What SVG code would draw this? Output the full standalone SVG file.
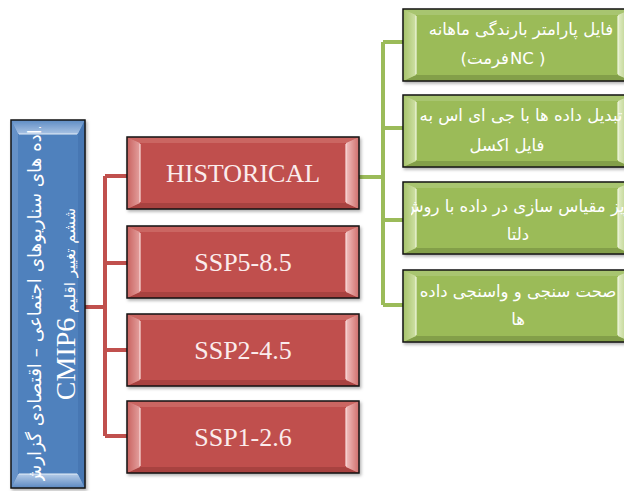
<svg xmlns="http://www.w3.org/2000/svg" width="624" height="491" viewBox="0 0 624 491">
<style>
.fa{font-family:"DejaVu Sans",sans-serif;fill:#ffffff;direction:rtl;text-anchor:middle}
.fl{font-family:"DejaVu Sans",sans-serif;fill:#ffffff;direction:ltr;font-size:16.5px}
.g{font-size:16.5px}
.en{font-family:"Liberation Serif","Times New Roman",serif;font-size:26px;fill:#fbecec;text-anchor:middle}
.red{fill:none;stroke:#c0504d;stroke-width:4}
.grn{fill:none;stroke:#9bbb59;stroke-width:4}
.edge{fill:none;stroke:#151515;stroke-width:1.5}
</style>
<defs>
<filter id="sh" x="-10%" y="-10%" width="130%" height="130%">
<feDropShadow dx="1.5" dy="2" stdDeviation="1.5" flood-color="#000" flood-opacity="0.3"/>
</filter>
<linearGradient id="rL" x1="0" x2="1"><stop offset="0" stop-color="#c9625f"/><stop offset="1" stop-color="#e3a09e"/></linearGradient>
<linearGradient id="rR" x1="1" x2="0"><stop offset="0" stop-color="#cf6e6b"/><stop offset="1" stop-color="#f1c1c0"/></linearGradient>
<linearGradient id="gL" x1="0" x2="1"><stop offset="0" stop-color="#a5c268"/><stop offset="1" stop-color="#cfe0a6"/></linearGradient>
<linearGradient id="gR" x1="1" x2="0"><stop offset="0" stop-color="#aac671"/><stop offset="1" stop-color="#e2edc7"/></linearGradient>
<linearGradient id="bT" x1="0" y1="0" x2="0" y2="1"><stop offset="0" stop-color="#5e8cc4"/><stop offset="1" stop-color="#a9c3e4"/></linearGradient>
<linearGradient id="bB" x1="0" y1="1" x2="0" y2="0"><stop offset="0" stop-color="#5b88c1"/><stop offset="1" stop-color="#b5cce8"/></linearGradient>
<g id="redShape">
<rect width="232" height="72" fill="#c0504d"/>
<polygon points="0,0 232,0 219,6 13,6" fill="#cb6662"/>
<polygon points="0,72 232,72 219,66 13,66" fill="#a8423f"/>
<polygon points="0,0 13,6 13,66 0,72" fill="url(#rL)"/>
<polygon points="232,0 219,6 219,66 232,72" fill="url(#rR)"/>
<path d="M13,7 V65 M219,7 V65" stroke="#f8dad9" stroke-width="1.2"/>
<rect width="232" height="72" class="edge"/>
</g>
<g id="grnShape">
<rect width="228" height="72" fill="#9bbb59"/>
<polygon points="0,0 228,0 215,6 13,6" fill="#a8c56f"/>
<polygon points="0,72 228,72 215,66 13,66" fill="#839f49"/>
<polygon points="0,0 13,6 13,66 0,72" fill="url(#gL)"/>
<polygon points="228,0 215,6 215,66 228,72" fill="url(#gR)"/>
<path d="M13,7 V65 M215,7 V65" stroke="#eef5de" stroke-width="1.2"/>
<rect width="228" height="72" class="edge"/>
</g>
<g id="bluShape">
<rect width="74" height="368" fill="#4f81bd"/>
<polygon points="0,0 74,0 67,14 7,14" fill="url(#bT)"/>
<polygon points="0,368 74,368 67,354 7,354" fill="url(#bB)"/>
<polygon points="0,0 7,14 7,354 0,368" fill="#6591c7"/>
<polygon points="74,0 67,14 67,354 74,368" fill="#4677b3"/>
<path d="M8,14 H66 M8,354 H66" stroke="#e4edf8" stroke-width="1.2"/>
<rect width="74" height="368" class="edge"/>
</g>
<clipPath id="cB"><rect x="11" y="127" width="74" height="354"/></clipPath>
<clipPath id="cG"><rect x="411" y="0" width="213" height="491"/></clipPath>
</defs>

<g id="connectors">
<path class="red" d="M85,307 H105 M105,176 V436 M105,176 H127 M105,263 H127 M105,350 H127 M105,436 H127"/>
<path class="grn" d="M359,177 H383 M383,42 V305 M383,42 H403 M383,128 H403 M383,220 H403 M383,305 H403"/>
</g>

<g id="root">
<use href="#bluShape" x="11" y="120" filter="url(#sh)"/>
<g clip-path="url(#cB)">
<text class="fa" font-size="18.3" transform="translate(41,304) rotate(-90)">داده های سناریوهای اجتماعی – اقتصادی گزارش</text>
<text class="fa" transform="translate(75,304) rotate(-90)"><tspan font-size="15">ششم تغییر اقلیم </tspan><tspan font-family="Liberation Serif,serif" font-size="28">CMIP6</tspan></text>
</g>
</g>

<g id="historical">
<use href="#redShape" x="127" y="137" filter="url(#sh)"/>
<text class="en" x="243" y="182">HISTORICAL</text>
</g>
<g id="ssp585">
<use href="#redShape" x="127" y="226" filter="url(#sh)"/>
<text class="en" x="243" y="271">SSP5-8.5</text>
</g>
<g id="ssp245">
<use href="#redShape" x="127" y="314" filter="url(#sh)"/>
<text class="en" x="243" y="359">SSP2-4.5</text>
</g>
<g id="ssp126">
<use href="#redShape" x="127" y="401" filter="url(#sh)"/>
<text class="en" x="243" y="446">SSP1-2.6</text>
</g>

<g id="step1">
<use href="#grnShape" x="403" y="9" filter="url(#sh)"/>
<g clip-path="url(#cG)">
<text class="fa g" x="521" y="35">فایل پارامتر بارندگی ماهانه</text>
<text class="fl" x="509" y="64" text-anchor="end">(فرمت</text>
<text class="fl" x="510" y="64" text-anchor="start">NC  )</text>
</g>
</g>
<g id="step2">
<use href="#grnShape" x="403" y="95" filter="url(#sh)"/>
<g clip-path="url(#cG)">
<text class="fa g" x="521" y="121">تبدیل داده ها با جی ای اس به</text>
<text class="fa g" x="507" y="151">فایل اکسل</text>
</g>
</g>
<g id="step3">
<use href="#grnShape" x="403" y="182" filter="url(#sh)"/>
<g clip-path="url(#cG)">
<text class="fa g" x="518" y="212">ریز مقیاس سازی در داده  با روش</text>
<text class="fa g" x="518" y="240">دلتا</text>
</g>
</g>
<g id="step4">
<use href="#grnShape" x="403" y="270" filter="url(#sh)"/>
<g clip-path="url(#cG)">
<text class="fa g" x="518" y="297">صحت سنجی و واسنجی داده</text>
<text class="fa g" x="518" y="325">ها</text>
</g>
</g>
</svg>
